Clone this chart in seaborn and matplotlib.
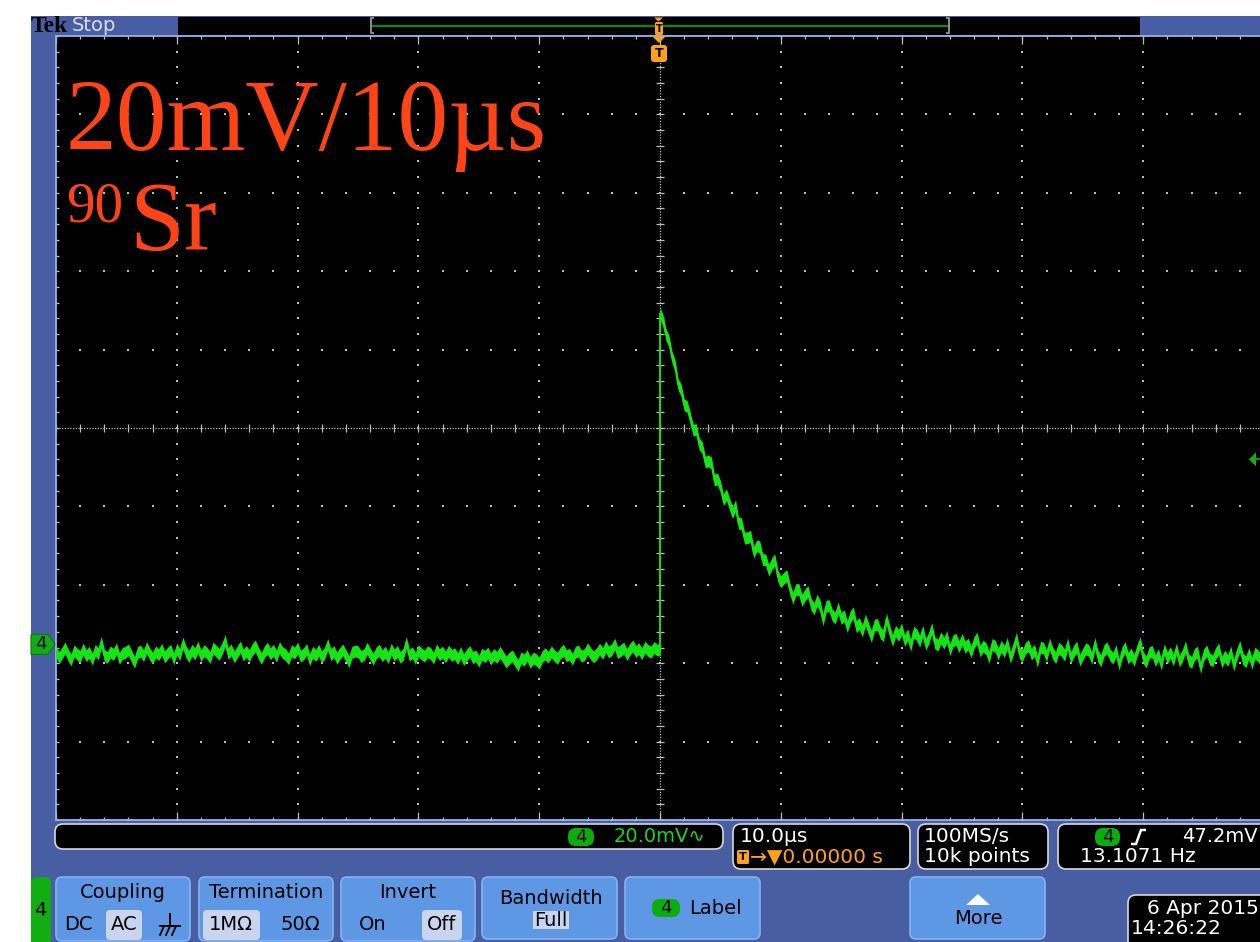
import numpy as np
import pandas as pd
import matplotlib
matplotlib.use("Agg")
import matplotlib.pyplot as plt
from matplotlib.patches import Rectangle, FancyBboxPatch, Polygon
import seaborn as sns

# ---------------- acquisition settings ----------------
VOLTS_PER_DIV = 20.0      # mV / div
TIME_PER_DIV = 10.0       # µs / div
GROUND_DIV = -2.76        # channel 4 ground marker, divisions from screen centre
TRIGGER_LEVEL_MV = 47.2   # mV
SAMPLE_US = 0.25          # plotted sample spacing
TRACE_HALF_WIDTH = 1.5    # drawn thickness of the persistence band, mV

# ---------------- channel 4 record (mV vs ground) ----------------
# pre-trigger baseline, -50 µs .. -25.25 µs
pre_a_mv = [
    -1.8, -3.4, -2.2, -0.9, -2.7, -4.0, -1.6, -2.5, -3.1, -1.2, -2.9, -2.0,
    -3.8, -1.5, -2.4, 0.6, -2.8, -3.3, -1.9, -2.6, -1.1, -3.6, -2.3, -2.0,
    -1.4, -3.0, -4.6, -2.1, -1.7, -2.9, -0.8, -2.4, -3.5, -1.9, -2.6, -1.3,
    -3.2, -2.2, -1.5, -3.7,
    -1.2, -2.6, 0.4, -1.8, -3.1, -1.5, -2.4, -0.7, -2.9, -1.6, -2.2, -3.4,
    -0.9, -1.7, -2.5, -1.1, 1.0, -2.3, -1.4, -3.2, -2.0, -0.6, -2.7, -1.8,
    -2.9, -1.3, -0.4, -2.2, -3.6, -1.9, -1.0, -2.4, -1.5, -3.0, -0.8, -2.1,
    -2.6, -3.7, -1.6, -2.2, -0.9, -3.0, -2.4, -1.3, -3.9, -2.0, -2.8, -1.5,
    -3.3, -2.1, 0.0, -2.7, -1.8, -3.5, -2.3, -1.4, -2.9, -4.4, -2.0, -1.7,
]
# pre-trigger baseline, -25 µs .. -0.25 µs
pre_b_mv = [
    -1.9, -3.1, -2.6, -1.0, -2.4, -3.8, -2.2, -1.5, -2.9, -2.0, -3.4, -1.2,
    -2.7, -1.8, -3.3, -2.5, 0.5, -2.8, -2.1, -3.6, -1.6, -2.4, -3.0, -1.9,
    -2.3, -3.5, -1.4, -2.6, -2.0, -3.2, -1.7, -2.8,
    -2.4, -3.6, -2.1, -3.9, -2.7, -1.8, -3.4, -2.9, -4.3, -2.5, -3.1, -2.2,
    -3.7, -2.6, -3.3, -2.0,
    -3.2, -4.5, -3.6, -2.9, -4.1, -5.4, -3.4, -4.0, -2.8, -4.6, -3.5, -3.9,
    -4.8, -3.1,
    -2.4, -3.3, -1.9, -2.8, -3.6, -2.2, -1.5, -2.9, -2.5, -3.8, -2.0, -1.7,
    -3.0, -2.6, -1.1, -2.3, -3.2, -2.4,
    -1.2, -2.3, -0.6, -1.9, -1.4, 0.1, -2.1, -1.6, -0.9, -2.6, -1.3, -0.4,
    -1.8, -1.1, -2.4, -0.7, -1.5, -2.0, -0.8, -1.4,
]
# level just before the trigger edge at t = 0
edge_mv = -1.5
# pulse and decay, 0 µs .. 24.75 µs
post_a_mv = [
    84.5, 82.6, 79.0, 77.3, 73.2, 71.1, 66.3, 64.9, 61.1, 60.7, 57.7, 54.7,
    54.8, 51.1, 50.2, 46.5, 46.8, 46.3, 41.9, 42.2, 40.3, 36.9, 38.2, 35.8,
    33.6, 35.4, 30.9, 30.8, 27.1, 27.2, 27.6, 23.5, 25.1, 24.9, 21.6, 21.6,
    18.9, 20.5, 21.6, 17.5, 16.0, 16.9, 17.5, 14.2, 11.8, 14.0, 14.0, 11.2,
    12.6, 13.5, 10.3, 9.0, 11.3, 9.8, 6.2, 9.7, 9.9, 7.5, 6.7, 9.3,
    6.6, 7.3, 4.5, 7.0, 8.1, 4.5, 5.3, 3.4, 6.2, 4.1, 2.0, 4.9,
    5.1, 2.9, 2.3, 6.5, 3.4, 1.0, 3.4, 2.3, 3.9, 1.0, 2.5, -0.3,
    3.1, 2.5, 0.8, 3.4, 0.0, 1.6, 4.1, 0.4, -0.2, 1.7, 0.3, 2.0,
    -1.4, 0.9, 1.3, -0.6,
]
# tail, 25 µs .. 49.75 µs
post_b_mv = [
    1.3, -0.7, 0.1, -1.9, 0.5, 1.6, -1.7, -0.4, -1.2, -3.3, 0.0, -0.5,
    -2.4, -0.5, -1.8, 0.3, -3.3, -1.2, 1.6, -2.1, -2.9, -1.0, -0.3, -2.5,
    -1.5, -4.4, -0.7, -1.0, -2.9, 0.1, -2.2, -3.4, -1.0, -1.6, -2.8, 0.2,
    -3.5, -1.7, -0.7, -4.1, -2.5, -1.1, -1.6, -3.6, 0.3, -3.0, -4.2, -1.6,
    -0.9, -2.7, -3.5, -1.6, -5.1, -2.1, -0.8, -3.5, -2.5, -4.1, -1.5, 0.5,
    -3.4, -4.5, -2.1, -1.8, -4.1, -2.6, -5.1, -1.3, -3.4, -2.1, -4.0, -1.1,
    -4.3, -2.8, -0.6, -3.9, -4.6, -2.5, -2.0, -6.0, -2.7, -1.6, -3.7, -4.2,
    -2.3, -1.1, -4.5, -3.0, -4.1, -1.9, -5.3, -2.5, -0.5, -3.7, -4.4, -2.3,
    -4.8, -2.2, -2.9, -4.1,
]

# ---------------- readouts ----------------
scale_label = "20mV/10µs"
source_label = ("90", "Sr")
ch_readout = "20.0mV"
time_readout = "10.0µs"
trig_pos_readout = "0.00000 s"
rate_readout = ("100MS/s", "10k points")
trig_readout = ("47.2mV", "13.1071 Hz")
date_readout = ("6 Apr 2015", "14:26:22")

# ---------------- colours ----------------
BLUE = "#495da3"
BTN = "#5e97e3"
BTN_EDGE = "#86b3ef"
SEL = "#c9d5ef"
TRACE = "#14e614"
CH_GREEN = "#12ad12"
GRID = "#bdbdbd"
ORANGE = "#ffa21a"
RED = "#ff4517"
BORDER = "#8fb4ea"

W, H = 1260, 942
fig = plt.figure(figsize=(W / 100, H / 100), dpi=100)
fig.patch.set_facecolor("white")

# background / UI layer in pixel coordinates
ui = fig.add_axes([0, 0, 1, 1], zorder=0)
ui.set_xlim(0, W)
ui.set_ylim(H, 0)
ui.axis("off")

# overlay layer
ov = fig.add_axes([0, 0, 1, 1], zorder=2)
ov.set_xlim(0, W)
ov.set_ylim(H, 0)
ov.axis("off")
ov.patch.set_visible(False)

ui.add_patch(Rectangle((31, 16), W - 31, H - 16, fc=BLUE, ec="none", zorder=0))


def rbox(axx, x0, y0, x1, y1, fc, ec="none", r=6, lw=1.0, z=1):
    axx.add_patch(FancyBboxPatch((x0 + r, y0 + r), (x1 - x0) - 2 * r, (y1 - y0) - 2 * r,
                                 boxstyle=f"round,pad={r}", fc=fc, ec=ec, lw=lw, zorder=z))


def txt(axx, x, y, s, size=14, color="black", ha="left", va="center", family="DejaVu Sans", **kw):
    axx.text(x, y, s, fontsize=size, color=color, ha=ha, va=va, family=family, zorder=5, **kw)


# ---------------- top bar ----------------
txt(ui, 31, 26.5, "Tek", size=17, color="black", family="Liberation Serif", weight="bold")
txt(ui, 72, 25.5, "Stop", size=14, color="#dcdcff")
ui.add_patch(Rectangle((178, 17), 962, 17.5, fc="black", ec="none", zorder=2))
ui.plot([373, 948], [25.5, 25.5], color="#0a8a0a", lw=1.6, zorder=3)
for bx, d in ((371, 1), (949, -1)):
    ui.plot([bx + d * 2, bx, bx, bx + d * 2], [18, 18, 33, 33], color="#9a9a9a", lw=1.3, zorder=3)
# trigger position marker in record view
ui.add_patch(Polygon([[654, 17.5], [663, 17.5], [658.5, 21.5]], closed=True, fc=ORANGE, ec="none", zorder=4))
rbox(ui, 655, 22, 663, 35, ORANGE, r=1.5, z=4)
txt(ui, 659, 28.5, "T", size=7, color="black", ha="center", weight="bold")

# ---------------- graticule / waveform ----------------
x0_px, y0_px, w_px, h_px = 56, 36, 1208, 784
ax = fig.add_axes([x0_px / W, (H - y0_px - h_px) / H, w_px / W, h_px / H], zorder=1)
ax.set_facecolor("black")
yc = -GROUND_DIV * VOLTS_PER_DIV
ax.set_xlim(-5 * TIME_PER_DIV, 5 * TIME_PER_DIV)
ax.set_ylim(yc - 5 * VOLTS_PER_DIV, yc + 5 * VOLTS_PER_DIV)
ax.set_xticks([])
ax.set_yticks([])
for side in ("top", "left", "bottom"):
    ax.spines[side].set_color(BORDER)
    ax.spines[side].set_linewidth(1.3)
ax.spines["right"].set_visible(False)

xmaj = np.arange(-5, 6) * TIME_PER_DIV
ymaj = yc + np.arange(-5, 6) * VOLTS_PER_DIV
xmin = np.arange(-25, 26) * TIME_PER_DIV / 5
ymin = yc + np.arange(-25, 26) * VOLTS_PER_DIV / 5

gx1, gy1 = np.meshgrid(xmaj[xmaj != 0], ymin)
gx2, gy2 = np.meshgrid(xmin, ymaj[ymaj != yc])
ax.scatter(np.concatenate([gx1.ravel(), gx2.ravel()]),
           np.concatenate([gy1.ravel(), gy2.ravel()]),
           s=1.6, marker="s", color=GRID, linewidths=0, zorder=1)

# centre cross with minor ticks
ax.axhline(yc, color=GRID, lw=0.9, ls=(0, (1.0, 1.2)), zorder=1)
ax.axvline(0, color=GRID, lw=0.9, ls=(0, (1.0, 1.2)), zorder=1)
ax.plot(xmin, np.full_like(xmin, yc), ls="none", marker="|", ms=6, mew=0.9, color=GRID, zorder=1)
ax.plot(np.zeros_like(ymin), ymin, ls="none", marker="_", ms=6, mew=0.9, color=GRID, zorder=1)

# edge ticks
ylo, yhi = ax.get_ylim()
for yy in (ylo, yhi):
    ax.plot(xmin, np.full_like(xmin, yy), ls="none", marker="|", ms=5, mew=0.9, color=GRID, zorder=1)
    ax.plot(xmaj, np.full_like(xmaj, yy), ls="none", marker="|", ms=12, mew=0.9, color=GRID, zorder=1)
ax.plot(np.full_like(ymin, -50), ymin, ls="none", marker="_", ms=5, mew=0.9, color=GRID, zorder=1)

wave = pd.DataFrame({
    "time_us": np.concatenate([
        np.arange(-50.0, -25.0, SAMPLE_US),
        np.arange(-25.0, 0.0, SAMPLE_US),
        [0.0],
        np.arange(0.0, 25.0, SAMPLE_US),
        np.arange(25.0, 50.0, SAMPLE_US),
    ]),
    "mv": np.concatenate([pre_a_mv, pre_b_mv, [edge_mv], post_a_mv, post_b_mv]),
})
ax.fill_between(wave["time_us"], wave["mv"] - TRACE_HALF_WIDTH, wave["mv"] + TRACE_HALF_WIDTH,
                color=TRACE, lw=0, zorder=3)
sns.lineplot(data=wave, x="time_us", y="mv", sort=False, estimator=None,
             color=TRACE, lw=1.3, ax=ax, zorder=4)
ax.set_xlabel("")
ax.set_ylabel("")

# ---------------- overlay markers and labels ----------------
# trigger position marker
ov.add_patch(Polygon([[652.5, 36.5], [665.5, 36.5], [659, 43]], closed=True, fc=ORANGE, ec="none", zorder=4))
rbox(ov, 651, 45, 667, 62, ORANGE, r=3, z=4)
txt(ov, 659, 53.5, "T", size=9, color="black", ha="center", weight="bold")

# channel ground marker
gy = y0_px + h_px / 2 - GROUND_DIV * (h_px / 10)
ov.add_patch(Polygon([[31, gy - 10], [48, gy - 10], [55, gy], [48, gy + 10], [31, gy + 10]],
                     closed=True, fc=CH_GREEN, ec="#0b7a0b", lw=0.8, zorder=4))
txt(ov, 41, gy, "4", size=13, color="black", ha="center")

# trigger level marker
ty = y0_px + h_px / 2 - (TRIGGER_LEVEL_MV - yc) / VOLTS_PER_DIV * (h_px / 10)
ov.add_patch(Polygon([[1249, ty], [1256, ty - 7], [1256, ty + 7]], closed=True, fc=CH_GREEN, ec="none", zorder=4))
ov.plot([1256, 1261], [ty, ty], color=CH_GREEN, lw=1.2, zorder=4)

# annotations
txt(ov, 66, 150, scale_label, size=73, color=RED, va="baseline", family="Liberation Serif")
txt(ov, 66, 222, source_label[0], size=41, color=RED, va="baseline", family="Liberation Serif")
txt(ov, 129, 250, source_label[1], size=71, color=RED, va="baseline", family="Liberation Serif")

# ---------------- status readouts ----------------
rbox(ui, 55, 824, 723, 849, "black", ec="#d8d8d8", r=8, lw=1.2, z=2)
rbox(ui, 568, 828, 594, 846, "#0aae0a", r=8, z=3)
txt(ui, 581, 837, "4", size=13, color="black", ha="center")
txt(ui, 614, 837, ch_readout + "\u223f", size=14, color="#1fd11f")

rbox(ui, 733, 824, 910, 869, "black", ec="#d8d8d8", r=8, lw=1.2, z=2)
txt(ui, 740, 837, time_readout, size=14.5, color="white")
rbox(ui, 737, 850, 749, 864, ORANGE, r=1.5, z=3)
txt(ui, 743, 857.5, "T", size=8, color="black", ha="center", weight="bold")
txt(ui, 750, 857, "\u2192\u25bc" + trig_pos_readout, size=14.5, color=ORANGE)

rbox(ui, 918, 824, 1048, 869, "black", ec="#d8d8d8", r=8, lw=1.2, z=2)
txt(ui, 924, 837, rate_readout[0], size=14.5, color="white")
txt(ui, 924, 857, rate_readout[1], size=14.5, color="white")

rbox(ui, 1058, 824, 1290, 869, "black", ec="#d8d8d8", r=8, lw=1.2, z=2)
rbox(ui, 1095, 828, 1120, 846, "#0aae0a", r=8, z=3)
txt(ui, 1107.5, 837, "4", size=13, color="black", ha="center")
ui.plot([1131, 1136, 1141, 1146], [844, 844, 830, 830], color="white", lw=1.8, zorder=4,
        solid_capstyle="butt")
txt(ui, 1182, 837, trig_readout[0], size=14, color="white")
txt(ui, 1080, 857, trig_readout[1], size=14.5, color="white")

# ---------------- soft buttons ----------------
rbox(ui, 31, 877, 51, 960, CH_GREEN, r=6, z=2)
txt(ui, 40, 911, "4", size=14, color="black", ha="center")


def button(x0, x1, y0=877, y1=941):
    rbox(ui, x0, y0, x1, y1, BTN, ec=BTN_EDGE, r=6, lw=1.2, z=2)


button(56, 190)
txt(ui, 123, 893, "Coupling", size=14, ha="center")
txt(ui, 78, 925, "DC", size=14, ha="center")
rbox(ui, 106, 910, 142, 940, SEL, r=4, z=3)
txt(ui, 124, 925, "AC", size=14, ha="center")
ui.plot([170, 170], [914, 926], color="black", lw=1.4, zorder=4)
ui.plot([160, 180], [926, 926], color="black", lw=1.4, zorder=4)
for gxp in (164, 170, 176):
    ui.plot([gxp, gxp - 4], [926, 935], color="black", lw=1.3, zorder=4)

button(199, 333)
txt(ui, 266, 893, "Termination", size=14, ha="center")
rbox(ui, 203, 910, 260, 940, SEL, r=4, z=3)
txt(ui, 231, 925, "1M\u03a9", size=14, ha="center")
txt(ui, 300, 925, "50\u03a9", size=14, ha="center")

button(341, 475)
txt(ui, 408, 893, "Invert", size=14, ha="center")
txt(ui, 373, 925, "On", size=14, ha="center")
rbox(ui, 422, 910, 462, 940, SEL, r=4, z=3)
txt(ui, 442, 925, "Off", size=14, ha="center")

button(482, 617, y1=939)
txt(ui, 551, 899, "Bandwidth", size=14, ha="center")
ui.add_patch(Rectangle((533, 911), 36, 18, fc=SEL, ec="none", zorder=3))
txt(ui, 551, 920, "Full", size=14, ha="center")

button(625, 760, y1=939)
rbox(ui, 652, 899, 680, 917, "#0aae0a", r=8, z=3)
txt(ui, 666, 908, "4", size=13, color="black", ha="center")
txt(ui, 689, 908, "Label", size=14)

button(910, 1045, y1=939)
ui.add_patch(Polygon([[966, 905], [990, 905], [978, 894]], closed=True, fc="white", ec="none", zorder=4))
txt(ui, 978, 918, "More", size=14, ha="center")

rbox(ui, 1128, 895, 1300, 960, "black", ec="#d8d8d8", r=8, lw=1.2, z=2)
txt(ui, 1147, 908, date_readout[0], size=14.5, color="white")
txt(ui, 1131, 928, date_readout[1], size=14.5, color="white")

fig.savefig("out.png", dpi=100, facecolor=fig.get_facecolor())
